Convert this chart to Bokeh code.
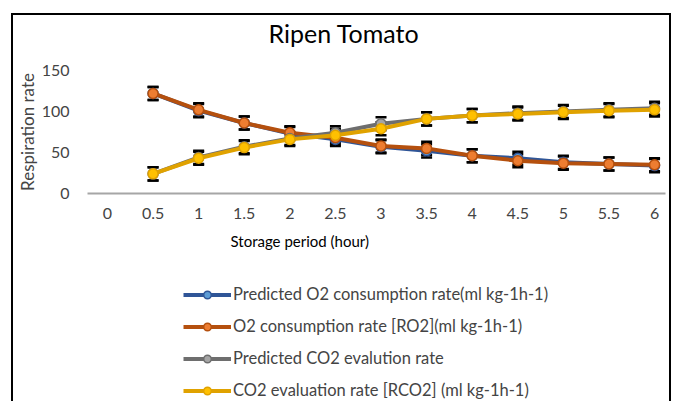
from bokeh.plotting import figure
from bokeh.layouts import column
from bokeh.models import ColumnDataSource, Whisker, TeeHead, FixedTicker, Legend, LegendItem, Title
from bokeh.embed import file_html
from bokeh.resources import INLINE

# ---- data ----
tick_values = [0, 0.5, 1, 1.5, 2, 2.5, 3, 3.5, 4, 4.5, 5, 5.5, 6]
hours = [0.5, 1, 1.5, 2, 2.5, 3, 3.5, 4, 4.5, 5, 5.5, 6]
pred_o2 = [122, 101, 86, 73, 66, 57, 52, 46, 43, 38, 36, 34]
meas_o2 = [122, 102, 86, 74, 68, 58, 55, 46, 40, 37, 36, 35]
pred_co2 = [24, 44, 57, 67, 74, 85, 91, 95, 98, 100, 102, 104]
meas_co2 = [24, 43, 56, 66, 71, 79, 91, 95, 97, 99, 101, 102]
err_pred_o2 = [8, 8, 8, 8, 8, 8, 8, 8, 8, 8, 8, 8]
err_meas_o2 = [8, 8, 8, 8, 8, 8, 8, 8, 8, 8, 8, 8]
err_pred_co2 = [8, 8, 8, 8, 8, 8, 8, 8, 8, 8, 8, 8]
err_meas_co2 = [8, 8, 8, 8, 8, 8, 8, 8, 8, 8, 8, 8]

names = ["Predicted O2 consumption rate(ml kg-1h-1)",
         "O2 consumption rate [RO2](ml kg-1h-1)",
         "Predicted CO2 evalution rate",
         "CO2 evaluation rate [RCO2] (ml kg-1h-1)"]

FONT = "Lato"

# title strip (its frame is aligned with the chart frame by the column)
p0 = figure(width=656, height=40, output_backend="svg", toolbar_location=None,
            x_range=(0, 1), y_range=(0, 1), min_border=0,
            x_axis_location=None, y_axis_location=None)
p0.grid.visible = False
p0.outline_line_color = None
p0.title = Title(text="Ripen Tomato", text_font=FONT, text_font_size="25px",
                 text_font_style="normal", text_color="#000000", align="left", offset=181, standoff=0)

p = figure(width=656, height=173, output_backend="svg", toolbar_location=None,
           x_range=(-0.219, 6.12), y_range=(0, 150),
           min_border_left=74, min_border_right=4, min_border_top=15, min_border_bottom=35)
p.outline_line_color = None
p.xgrid.grid_line_color = None
p.ygrid.grid_line_color = None

xa = p.xaxis[0]
xa.ticker = FixedTicker(ticks=tick_values)
xa.major_label_text_font = FONT
xa.major_label_text_font_size = "16px"
xa.major_label_standoff = 8
xa.axis_line_color = "#A6A6A6"
xa.axis_line_width = 2
xa.major_tick_line_color = None
xa.minor_tick_line_color = None

ya = p.yaxis[0]
ya.ticker = FixedTicker(ticks=[0, 50, 100, 150])
ya.axis_label = "Respiration rate"
ya.axis_label_text_font = FONT
ya.axis_label_text_font_size = "17px"
ya.axis_label_text_font_style = "normal"
ya.axis_label_standoff = 1
ya.major_label_text_font = FONT
ya.major_label_text_font_size = "16px"
ya.major_label_standoff = 12
ya.axis_line_color = None
ya.major_tick_line_color = None
ya.minor_tick_line_color = None

series = [
    (pred_o2, err_pred_o2, "#2F5597", "#5B9BD5"),
    (meas_o2, err_meas_o2, "#B5500E", "#ED7D31"),
    (pred_co2, err_pred_co2, "#6E6E6E", "#A5A5A5"),
    (meas_co2, err_meas_co2, "#E0A200", "#FFC000"),
]

# x-axis title + legend strip below the chart (its ranges keep the data out of view)
p2 = figure(width=656, height=173, output_backend="svg", toolbar_location=None,
            x_range=(100, 101), y_range=(1000, 1001), min_border=0,
            x_axis_location=None, y_axis_location=None)
p2.grid.visible = False
p2.outline_line_color = None
p2.title = Title(text="Storage period (hour)", text_font=FONT, text_font_size="15px",
                 text_font_style="normal", text_color="#000000", align="left", offset=143, standoff=3)

items = []
for (vals, errs, lc, mc), name in zip(series, names):
    src = ColumnDataSource(dict(x=hours, y=vals,
                                lo=[v - e for v, e in zip(vals, errs)],
                                hi=[v + e for v, e in zip(vals, errs)]))
    w = Whisker(source=src, base="x", lower="lo", upper="hi", line_color="#000000", line_width=1.5,
                upper_head=TeeHead(size=11, line_color="#000000", line_width=2.5),
                lower_head=TeeHead(size=11, line_color="#000000", line_width=2.5),
                level="underlay")
    p.add_layout(w)
    p.line("x", "y", source=src, line_color=lc, line_width=4)
    p.scatter("x", "y", source=src, size=10, fill_color=mc, line_color=lc, line_width=1.5)
    ln = p2.line("x", "y", source=src, line_color=lc, line_width=4)
    sc = p2.scatter("x", "y", source=src, size=10, fill_color=mc, line_color=lc, line_width=1.5)
    items.append(LegendItem(label=name, renderers=[ln, sc]))

legend = Legend(items=items, orientation="vertical", location=(96, 1),
                label_text_font=FONT, label_text_font_size="16.5px",
                glyph_width=48, glyph_height=19, label_height=19, spacing=12, padding=0, margin=0,
                label_standoff=2, border_line_color=None, background_fill_alpha=0)
p2.add_layout(legend)

layout = column(p0, p, p2, spacing=0,
                styles={"margin-left": "11px", "margin-top": "13px",
                        "border-top": "2px solid #000", "border-left": "2px solid #000",
                        "border-right": "2px solid #000"})

open("out.html", "w").write(file_html(layout, INLINE))
